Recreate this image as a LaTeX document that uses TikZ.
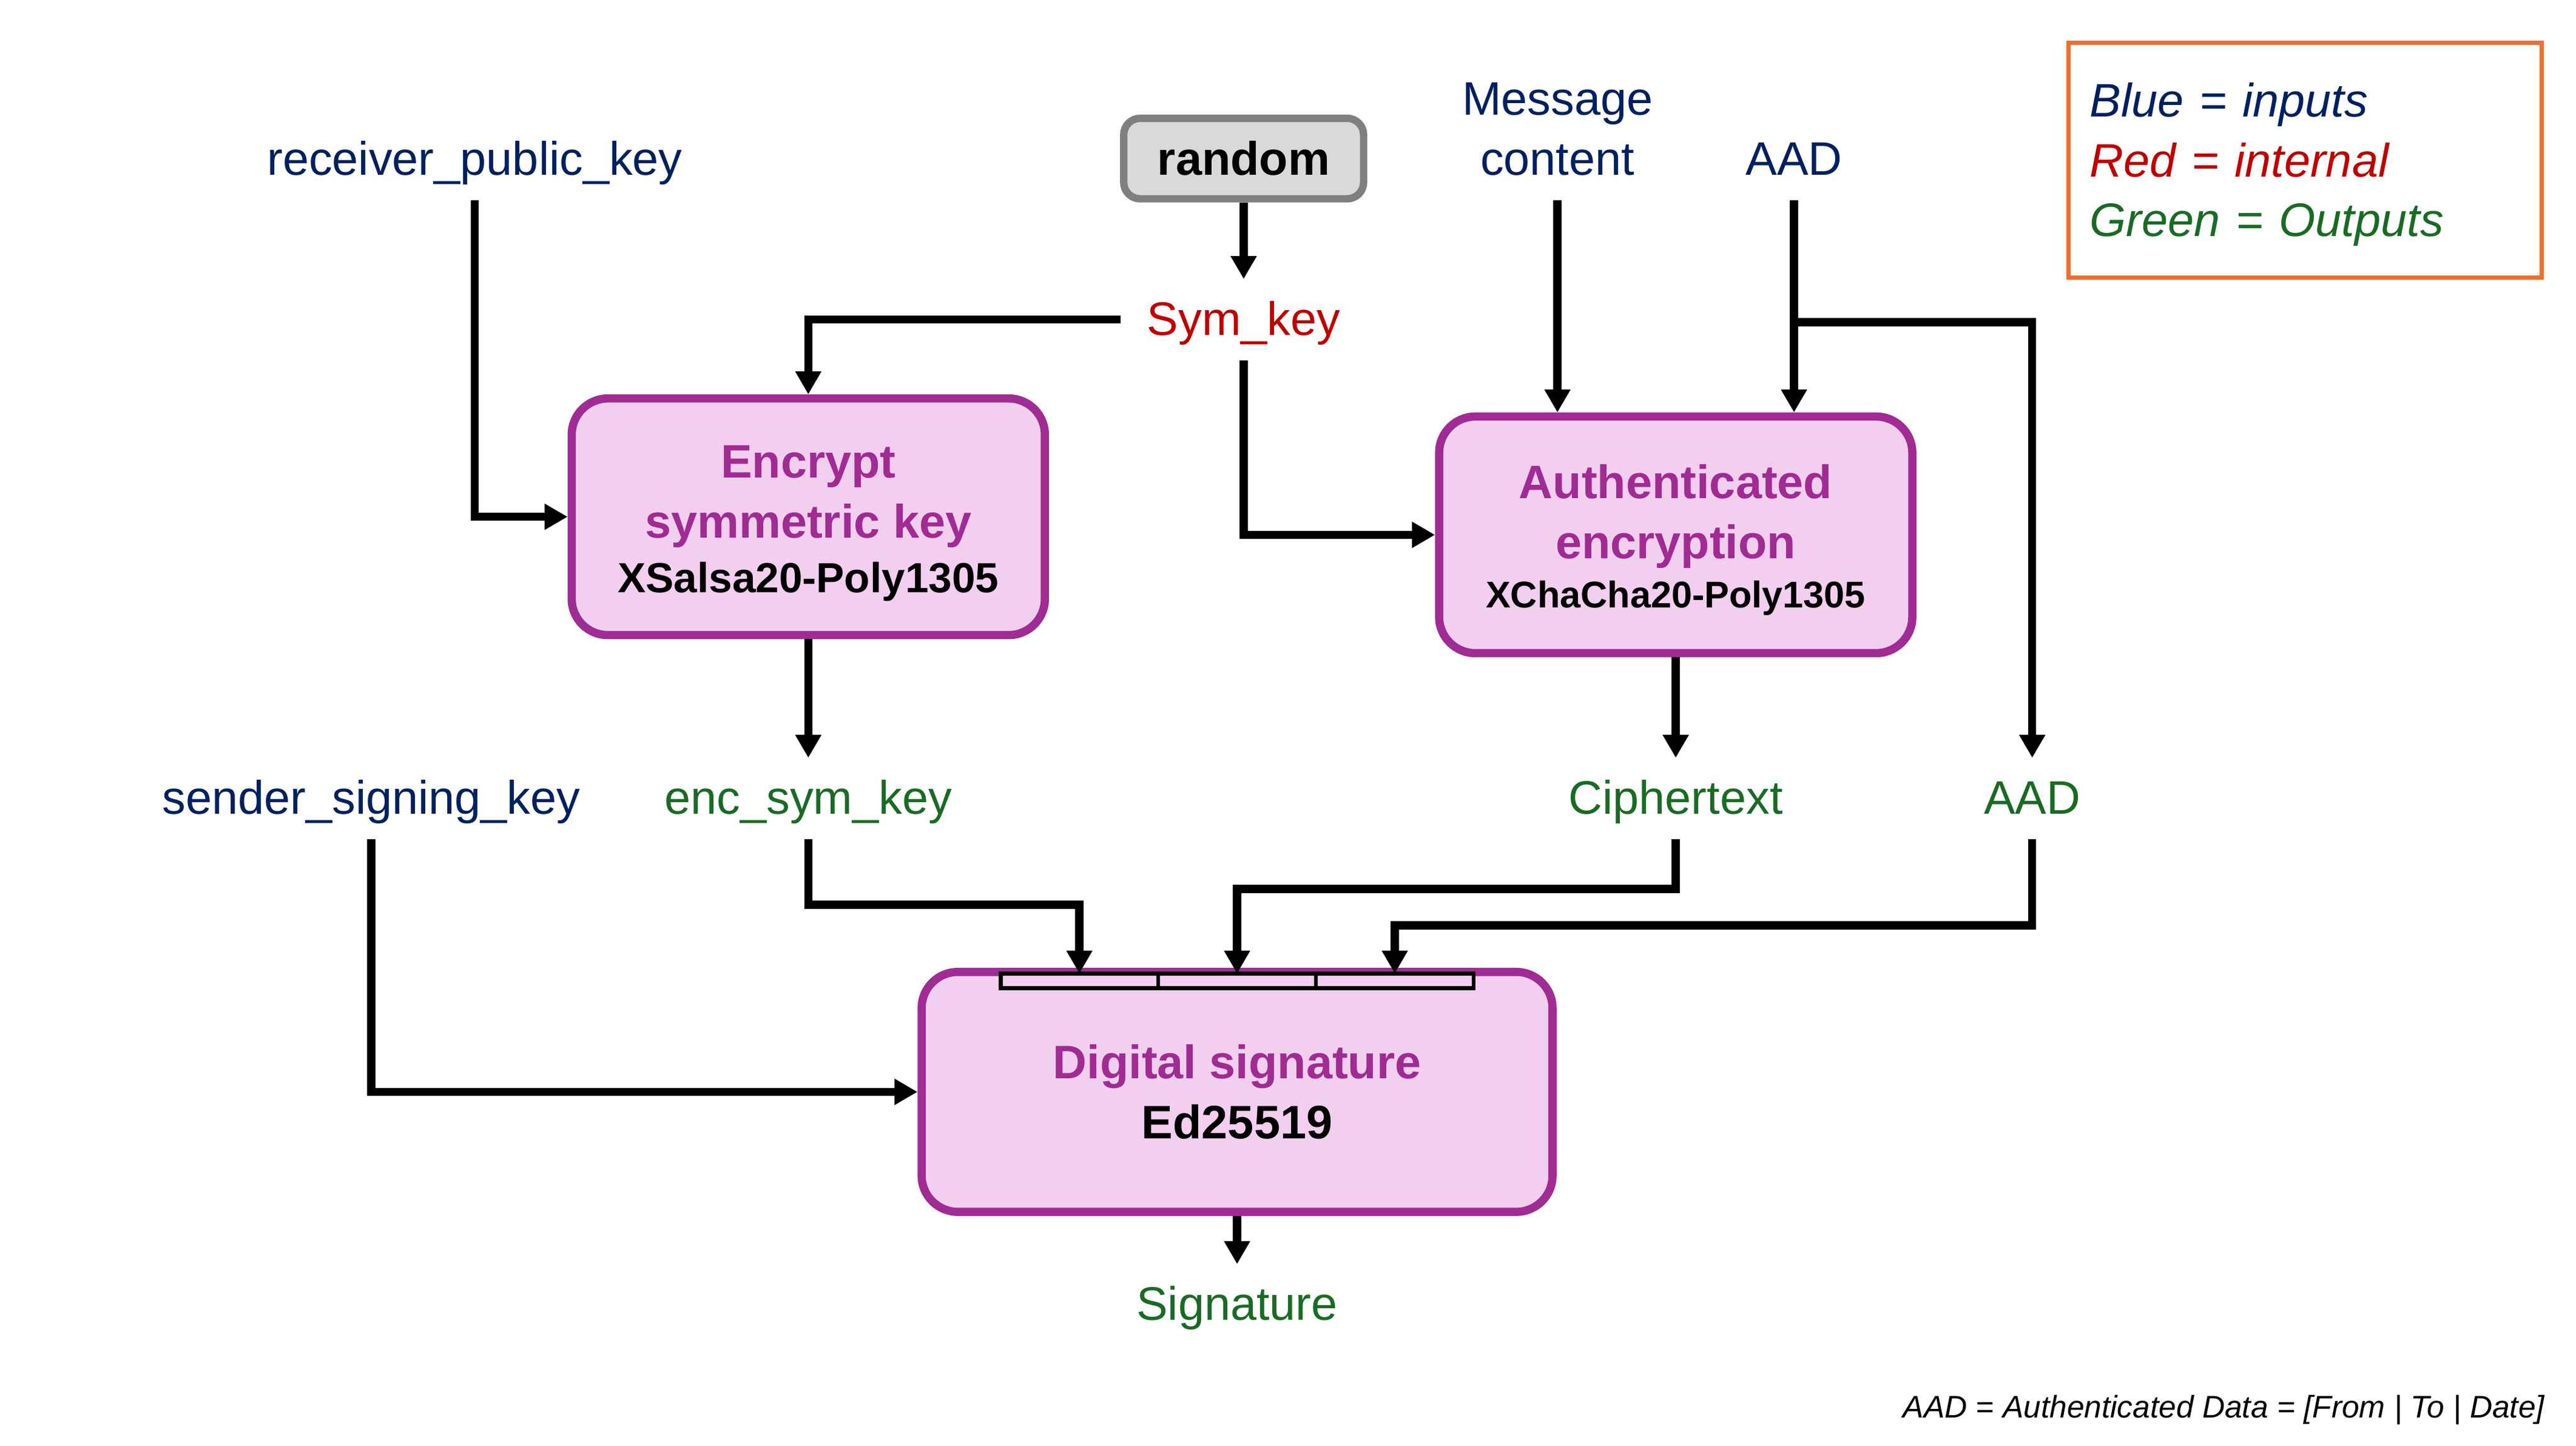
\documentclass[tikz,border=0pt]{standalone}
\usepackage{fontspec}
\setmainfont{Liberation Sans}
\usetikzlibrary{arrows.meta}
\definecolor{navy}{HTML}{002060}
\definecolor{redint}{HTML}{C00000}
\definecolor{greenout}{HTML}{196B24}
\definecolor{purp}{HTML}{A02B93}
\definecolor{pinkfill}{HTML}{F2CEEF}
\definecolor{orangebox}{HTML}{E97132}
\definecolor{greyline}{HTML}{7F7F7F}
\definecolor{greyfill}{HTML}{D9D9D9}
\tikzset{
	lbl/.style={inner sep=0pt, text height=34pt, text depth=15pt, anchor=base, font=\fontsize{28.6}{36.4}\selectfont},
	inp/.style={lbl, text=navy},
	intl/.style={lbl, text=redint},
	outp/.style={lbl, text=greenout},
	gbox/.style={draw=greyline, fill=greyfill, line width=4.5pt, rounded corners=10pt, minimum width=146pt, minimum height=49pt, inner sep=0pt, font=\bfseries\fontsize{28.6}{36.4}\selectfont},
	algo/.style={draw=purp, fill=pinkfill, line width=5pt, rounded corners=22pt, minimum width=288pt, minimum height=144pt, align=center, inner sep=0pt, text=purp, font=\bfseries\fontsize{28.6}{36.4}\selectfont},
	slot/.style={draw=black, fill=pinkfill, line width=2.5pt, minimum width=96pt, minimum height=9pt, inner sep=0pt, outer sep=0pt},
	wire/.style={line width=5pt, -{Triangle[length=14pt,width=15pt]}}
}
\begin{document}
\begin{tikzpicture}[x=1pt, y=-1pt]
			\useasboundingbox (0, 0) rectangle (1568, 880);
			\node[inp] at (289, 106.5) (1) {receiver\_public\_key};
			\node[gbox] at (757, 96.5) (2) {random};
			\node[inp, align=center] at (948, 106.5) (3) {Message\\content};
			\node[inp] at (1092, 106.5) (4) {AAD};
			\node[intl, inner xsep=16pt] at (757, 204) (5) {Sym\_key};
			\node[algo] at (492, 314.5) (6) {\rule{0pt}{28pt}Encrypt\\symmetric key\\[-3pt]\color{black}\fontsize{25.6}{31}\selectfont XSalsa20-Poly1305};
			\node[algo] at (1020, 325.5) (7) {\rule{0pt}{27pt}Authenticated\\encryption\\[-6.5pt]\color{black}\fontsize{22.6}{27}\selectfont XChaCha20-Poly1305};
			\node[inp] at (226, 495.4) (8) {sender\_signing\_key};
			\node[outp] at (492, 495.4) (9) {enc\_sym\_key};
			\node[outp] at (1020, 495.4) (10) {Ciphertext};
			\node[outp] at (1237, 495.4) (11) {AAD};
			\node[algo, minimum width=384pt, minimum height=146pt] at (753, 664.5) (12) {Digital signature\\\color{black}Ed25519};
			\node[slot] at (657, 597) (13) {};
			\node[slot] at (753, 597) (14) {};
			\node[slot] at (849, 597) (15) {};
			\node[outp] at (753, 803.5) (16) {Signature};
			\node[draw=orangebox, line width=2.5pt, align=left, text width=262pt, inner xsep=13pt, minimum height=143pt, font=\itshape\fontsize{28.6}{36.4}\selectfont] at (1403, 97.5) (17) {\rule{0pt}{26pt}\color{navy}Blue = inputs\\\color{redint}Red = internal\\\color{greenout}Green = Outputs};
			\node[anchor=base east, inner sep=0pt, font=\itshape\fontsize{19}{23}\selectfont] at (1549, 863) (18) {AAD = Authenticated Data = [From | To | Date]};
			\coordinate (19) at (1092, 196);
			\draw[wire] (2) -- (5);
			\draw[wire] (5.west) -| (6.north);
			\draw[wire] (5.south) |- (7.west);
			\draw[wire] (1.south) |- (6.west);
			\draw[wire] (3.south) -- (3.south |- 7.north);
			\draw[wire] (4.south) -- (4.south |- 7.north);
			\draw[wire] (19) -| (11.north);
			\draw[wire] (6) -- (9);
			\draw[wire] (7) -- (10);
			\draw[wire] (9.south) -- ++(0, 40) -| (13.north);
			\draw[wire] (10.south) -- ++(0, 30.5) -| (14.north);
			\draw[wire] (11.south) -- ++(0, 52.5) -| (15.north);
			\draw[wire] (8.south) |- (12.west);
			\draw[wire] (12) -- (16);
		\end{tikzpicture}
\end{document}
